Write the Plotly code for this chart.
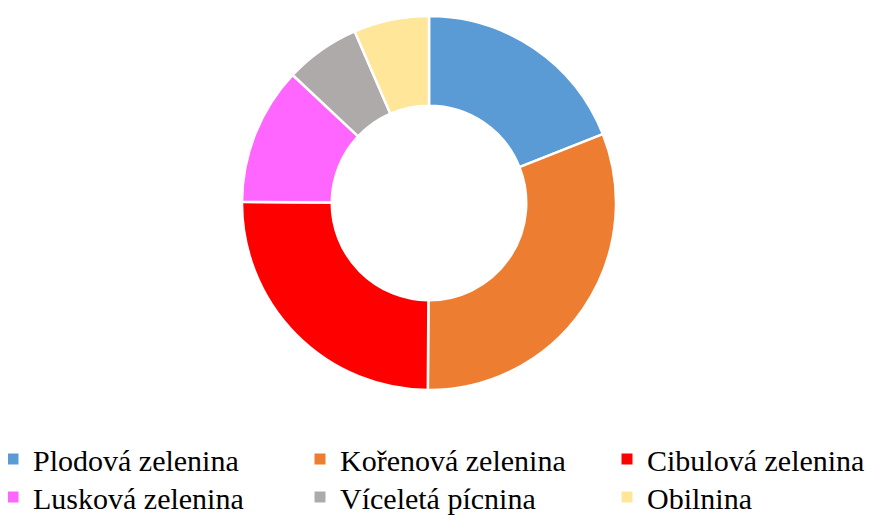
import plotly.graph_objects as go

labels = ["Plodová zelenina", "Kořenová zelenina", "Cibulová zelenina",
          "Lusková zelenina", "Víceletá pícnina", "Obilnina"]
values = [19.0, 31.1, 25.0, 11.9, 6.5, 6.5]
colors = ["#5B9BD5", "#ED7D31", "#FF0000", "#FF66FF", "#AEAAAA", "#FFE699"]

W, H = 881, 515
OFF = 8  # default page body margin of the written html
cx, cy, r = 429 - OFF, 203 - OFF, 187
FONT = "Liberation Serif"
FS = 30

fig = go.Figure()
fig.add_trace(go.Pie(
    labels=labels, values=values, sort=False, direction="clockwise", rotation=0,
    hole=0.52, textinfo="none", hoverinfo="label+value", showlegend=False,
    marker=dict(colors=colors, line=dict(color="white", width=2.5)),
    domain=dict(x=[(cx - r) / W, (cx + r) / W], y=[1 - (cy + r) / H, 1 - (cy - r) / H]),
))

# legend entries (one legend per entry so the 3x2 grid can be placed exactly)
text_x = [33, 340, 647]
row_bottom = [477, 515]
layout_legends = {}
for i, (lab, col) in enumerate(zip(labels, colors)):
    name = "legend" if i == 0 else f"legend{i + 1}"
    fig.add_trace(go.Scatter(
        x=[None], y=[None], mode="markers", name=lab, legend=name,
        marker=dict(symbol="square", size=11, color=col), hoverinfo="skip",
    ))
    c, rw = i % 3, i // 3
    layout_legends[name] = dict(
        x=(text_x[c] - 40 - OFF) / W, y=1 - row_bottom[rw] / H, xanchor="left", yanchor="bottom",
        orientation="v", bgcolor="rgba(0,0,0,0)", borderwidth=0,
        font=dict(family=FONT, size=FS, color="black"), itemclick=False, itemdoubleclick=False,
    )

fig.update_layout(
    width=W, height=H,
    margin=dict(l=0, r=0, t=0, b=0, autoexpand=False),
    paper_bgcolor="white", plot_bgcolor="white",
    font=dict(family=FONT, color="black", size=FS),
    showlegend=True,
    xaxis=dict(visible=False), yaxis=dict(visible=False),
    **layout_legends,
)

fig.write_html("out.html")
